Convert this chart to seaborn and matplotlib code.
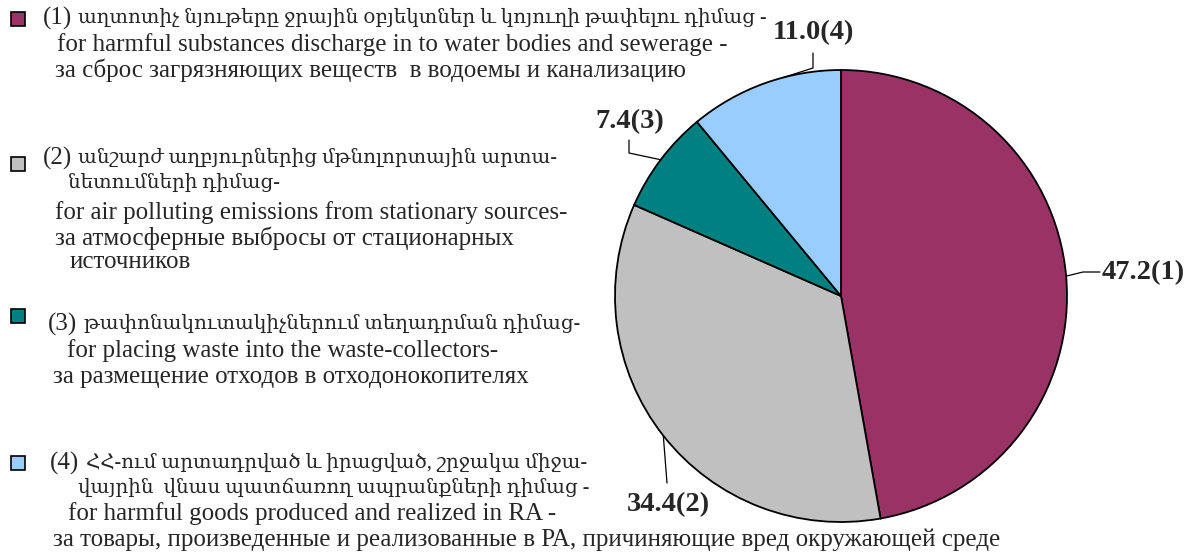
import matplotlib
matplotlib.use("Agg")
import matplotlib.pyplot as plt
from matplotlib.patches import Rectangle
import numpy as np
import seaborn as sns

sns.set_theme(style="white")
plt.rcParams['font.family'] = ['Liberation Serif', 'DejaVu Serif']

# Data
values = [47.2, 34.4, 7.4, 11.0]
ids = ["(1)", "(2)", "(3)", "(4)"]
colors = ["#993366", "#C0C0C0", "#008080", "#99CCFF"]

legend_1 = ["(1) աղտոտիչ նյութերը ջրային օբյեկտներ և կոյուղի թափելու դիմաց -",
            "for harmful substances discharge in to water bodies and sewerage -",
            "за сброс загрязняющих веществ  в водоемы и канализацию"]
legend_2 = ["(2) անշարժ աղբյուրներից մթնոլորտային արտա-",
            "նետումների դիմաց-",
            "for air polluting emissions from stationary sources-",
            "за атмосферные выбросы от стационарных",
            "источников"]
legend_3 = ["(3) թափոնակուտակիչներում տեղադրման դիմաց-",
            "for placing waste into the waste-collectors-",
            "за размещение отходов в отходонокопителях"]
legend_4 = ["(4) ՀՀ-ում արտադրված և իրացված, շրջակա միջա-",
            "վայրին  վնաս պատճառող ապրանքների դիմաց -",
            "for harmful goods produced and realized in RA -",
            "за товары, произведенные и реализованные в РА, причиняющие вред окружающей среде"]
legend_texts = [legend_1, legend_2, legend_3, legend_4]

# Layout (pixel positions, y measured from top)
W, H = 1191, 556
legend_marker_y = [19, 164, 316, 463]
legend_line_pos = [
    [(43, 18), (57, 45), (55, 70)],
    [(43, 158), (68, 183), (55, 213), (55, 238), (70, 262)],
    [(48, 324), (67, 351), (53, 377)],
    [(50, 463), (78, 488), (68, 514), (53, 540)],
]
label_pos = [(1143, 273), (668, 505), (630, 122), (813, 33)]
leader_elbows = [[(1083, 272), (1100, 272)], [(667, 483)],
                 [(629, 153), (629, 140)], [(813, 68), (813, 53)]]
anchor_shift = [0, 0, 0, -5]
LATIN_SIZE, ARM_SIZE = 18, 14.3


def is_armenian(s):
    return any("\u0530" <= ch <= "\u058F" for ch in s)


fig = plt.figure(figsize=(W / 100, H / 100), dpi=100)
ax = fig.add_axes([0, 0, 1, 1])

cx, cy, r = 841, H - 296, 226
wedges, _ = ax.pie(values, colors=sns.color_palette(colors), startangle=90,
                   counterclock=False, center=(cx, cy), radius=r,
                   wedgeprops=dict(edgecolor="black", linewidth=1.3))
ax.set_xlim(0, W)
ax.set_ylim(0, H)
ax.set_aspect("auto")
ax.axis("off")

# Value labels with leader lines
for w, v, name, (tx, ty), elbows, shift in zip(wedges, values, ids, label_pos,
                                              leader_elbows, anchor_shift):
    ang = np.deg2rad((w.theta1 + w.theta2) / 2 + shift)
    xs = [cx + r * np.cos(ang)] + [e[0] for e in elbows]
    ys = [cy + r * np.sin(ang)] + [H - e[1] for e in elbows]
    ax.plot(xs, ys, color="black", lw=0.9)
    ax.text(tx, H - ty, f"{v:.1f}{name}", ha="center", va="center",
            fontsize=20.5, fontweight="bold")

# Legend
for col, my, lines, pos in zip(colors, legend_marker_y, legend_texts, legend_line_pos):
    ax.add_patch(Rectangle((11, H - my - 7), 14, 14, facecolor=col,
                           edgecolor="black", lw=1.2))
    for txt, (lx, ly) in zip(lines, pos):
        arm = is_armenian(txt)
        if arm and txt.startswith("("):
            pre, rest = txt.split(" ", 1)
            t = ax.text(lx, H - ly, pre, ha="left", va="center", fontsize=LATIN_SIZE)
            ax.annotate(rest, xy=(1, 0.5), xycoords=t, xytext=(4.5, 0),
                        textcoords="offset points", ha="left", va="center",
                        fontsize=ARM_SIZE)
        else:
            ax.text(lx, H - ly, txt, ha="left", va="center",
                    fontsize=ARM_SIZE if arm else LATIN_SIZE)

fig.savefig("out.png", dpi=100)
